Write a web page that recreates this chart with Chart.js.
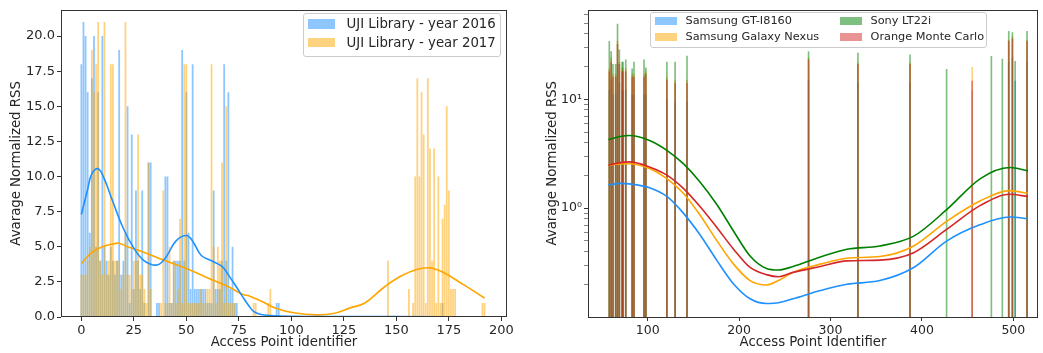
<!DOCTYPE html>
<html><head><meta charset="utf-8">
<script src="https://cdn.jsdelivr.net/npm/chart.js@4"></script>
<style>
html,body{margin:0;padding:0;background:#fff;width:1043px;height:353px;overflow:hidden;font-family:'DejaVu Sans',sans-serif;}
.panel{position:absolute;top:0;height:353px;}
#pl{left:0;width:520px}
#pr{left:520px;width:523px}
.legend{position:absolute;border:1px solid #cccccc;border-radius:3px;background:rgba(255,255,255,0.8);color:#262626;box-sizing:border-box;}
.lt{position:absolute;white-space:nowrap;}
.sw{position:absolute;}
</style></head><body>
<div class="panel" id="pl"><canvas id="c1" width="520" height="353"></canvas></div>
<div class="panel" id="pr"><canvas id="c2" width="523" height="353"></canvas></div>
<script>
// ---------- Left panel: UJI Library ----------
const lib2016Label = 'UJI Library - year 2016';
const lib2017Label = 'UJI Library - year 2017';
const libIds2016 = [0,1,2,3,4,5,6,7,8,9,10,11,12,13,14,15,16,17,18,19,20,21,22,23,24,25,26,27,28,29,30,32,33,36,37,40,41,42,43,44,45,46,47,48,49,50,51,52,53,54,55,56,57,58,59,60,61,62,63,64,65,66,67,68,69,70,71,72,73,74,93,94,172];
const libRss2016 = [18,21,20,16,6,17,20,5,16,4,20,5,4,3,5,4,3,4,19,3,4,6,15,1,13,2,9,4,2,9,1,11,11,1,1,10,10,1,1,4,4,4,4,19,4,16,6,2,18,2,2,2,2,2,2,1,1,1,9,2,2,2,4,18,4,16,2,5,1,1,1,1,1];
const libIds2017 = [0,1,2,3,4,5,6,7,8,9,10,11,12,13,14,15,16,17,18,19,20,21,22,23,24,25,26,27,28,29,30,31,32,33,38,39,40,41,42,43,44,45,46,47,48,49,50,51,52,53,54,55,56,57,58,59,60,61,62,63,64,65,66,67,68,69,70,71,72,73,82,83,89,90,146,156,158,159,160,161,162,163,164,165,166,167,168,169,170,171,172,173,174,175,176,177,178,191,192];
const libRss2017 = [3,3,3,4,5,19,16,18,21,4,3,21,3,4,18,18,4,4,4,2,3,21,3,3,2,4,4,13,3,3,2,1,11,2,1,9,1,1,5,1,4,1,2,7,1,18,18,1,1,1,1,1,1,2,1,1,2,2,18,5,1,5,4,11,1,15,1,1,1,1,1,1,1,2,4,2,1,10,17,10,16,13,1,17,12,4,12,1,10,1,7,8,15,9,2,2,2,1,1];
const kdeX2016 = [0,3,5,8,11,15,20,25,30,36,40,45,50,53,57,62,67,70,74,77,80,82,85,90,100,120,172];
const kdeY2016 = [7.3,9.1,10.2,10.55,9.8,8.2,6.3,4.9,4.0,3.7,4.2,5.4,5.8,5.4,4.4,4.0,3.6,3.0,2.1,1.4,0.75,0.4,0.2,0.1,0.05,0.03,0.02];
const kdeX2017 = [0,5,10,15,18,22,30,40,50,60,70,77,80,86,93,101,112,120,128,135,144,152,160,166,172,182,192];
const kdeY2017 = [3.8,4.6,5.0,5.2,5.25,5.0,4.6,4.0,3.45,2.8,2.15,1.6,1.5,1.1,0.6,0.3,0.15,0.25,0.65,1.0,2.1,2.9,3.4,3.5,3.2,2.3,1.35];
const leftXTicks = [0,25,50,75,100,125,150,175,200];
const leftYTicks = [0,2.5,5,7.5,10,12.5,15,17.5,20];

// ---------- Right panel: devices ----------
const phoneLabels = ['Samsung GT-I8160','Samsung Galaxy Nexus','Sony LT22i','Orange Monte Carlo'];
const phoneAps = [58,60,62,65,67,69,72,73,76,83,85,96,98,121,130,143,276,330,387,427,455,476,488,495,499,502,515];
const rssGT  = [12,15,11,11,21,14,12,12,12,11,11,11,11,10,9.5,9.5,15,14,14,null,12,null,null,22,24,14.7,22];
const rssNexus = [19,24,17,17,34,22,19,19.5,19,17,17,17,18,16,15,15,24,21.6,21.6,null,19.7,null,null,35,37.6,null,35];
const rssSony = [34,27.5,21,21,49,28.5,22,22,23,19,22,23,19.5,22,22,25,27.5,26.6,25.6,18.8,null,24.8,23.4,42,41,22.3,42];
const rssOrange = [18,22,16,16,32,21,18,18,18,16,16,16,17,15,14,14,23,21,21,null,14.7,null,null,34,36,null,34];
const curveX = [57,70,80,102,121,139,157,176,194,212,230,243,259,289,318,354,391,427,464,496,516];
const curveGT = [1.63,1.69,1.67,1.54,1.28,0.9,0.573,0.328,0.201,0.147,0.133,0.135,0.147,0.175,0.2,0.216,0.285,0.498,0.706,0.828,0.8];
const curveNexus = [2.48,2.55,2.56,2.31,1.87,1.37,0.871,0.498,0.306,0.216,0.197,0.216,0.257,0.306,0.347,0.359,0.449,0.757,1.17,1.45,1.37];
const curveSony = [4.27,4.55,4.65,4.19,3.4,2.56,1.75,1.07,0.614,0.364,0.279,0.27,0.291,0.356,0.419,0.449,0.553,0.967,1.87,2.36,2.2];
const curveOrange = [2.48,2.62,2.66,2.39,2.01,1.52,1.04,0.658,0.419,0.285,0.245,0.234,0.257,0.291,0.328,0.333,0.39,0.637,1.06,1.34,1.28];
const rightXTicks = [100,200,300,400,500];
const rightYMajor = [1,10];
const rightYMinor = [0.2,0.3,0.4,0.5,0.6,0.7,0.8,0.9,2,3,4,5,6,7,8,9,20,30,40,50,60];

const TXT = '#262626', AX = '#333333', FF = "'DejaVu Sans'";
Chart.defaults.font.family = FF;
Chart.defaults.color = TXT;

function pts(xs, ys){ return xs.map((x,i)=>({x:x, y:ys[i]})); }

const framePlugin = {
  id:'frame',
  afterDraw(chart){
    const a = chart.chartArea, c = chart.ctx;
    c.save(); c.strokeStyle = AX; c.lineWidth = 1;
    c.strokeRect(Math.round(a.left)+0.5, Math.round(a.top)+0.5, Math.round(a.right-a.left)-1, Math.round(a.bottom-a.top)-1);
    c.restore();
  }
};

function axisGrid(){ return {display:true, offset:false, drawOnChartArea:false, drawTicks:true, tickLength:4, tickColor:AX, color:AX}; }

const C16 = 'rgba(30,144,255,0.5)', C17 = 'rgba(255,165,0,0.5)';
new Chart(document.getElementById('c1'), {
  type:'bar',
  data:{datasets:[
    {type:'line', data:pts(kdeX2016,kdeY2016), borderColor:'#1e90ff', borderWidth:1.6, pointRadius:0, tension:0.4, fill:false, order:0},
    {type:'line', data:pts(kdeX2017,kdeY2017), borderColor:'#ffa500', borderWidth:1.6, pointRadius:0, tension:0.4, fill:false, order:0},
    {label:lib2017Label, data:pts(libIds2017,libRss2017), backgroundColor:C17, order:1, grouped:false, barPercentage:0.85, categoryPercentage:1},
    {label:lib2016Label, data:pts(libIds2016,libRss2016), backgroundColor:C16, order:2, grouped:false, barPercentage:0.85, categoryPercentage:1}
  ]},
  options:{
    responsive:false, animation:false, events:[],
    layout:{padding:{top:6,right:13,left:0,bottom:0}},
    plugins:{legend:{display:false}, tooltip:{enabled:false}},
    scales:{
      x:{type:'linear', offset:false, min:-9.7, max:202.7, grid:axisGrid(), border:{display:false},
         ticks:{color:TXT, font:{size:13}, padding:2, autoSkip:false, maxRotation:0},
         title:{display:true, text:'Access Point identifier', color:TXT, font:{size:13.3}, padding:{top:0,bottom:2}},
         afterBuildTicks:s=>{s.ticks = leftXTicks.map(v=>({value:v}));},
         afterFit:s=>{s.height = 36;}},
      y:{type:'linear', min:0, max:21.87, grid:axisGrid(), border:{display:false},
         ticks:{color:TXT, font:{size:13}, padding:2, autoSkip:false, callback:v=>Number(v).toFixed(1)},
         title:{display:true, text:'Avarage Normalized RSS', color:TXT, font:{size:13.3}, padding:{top:9,bottom:0}},
         afterBuildTicks:s=>{s.ticks = leftYTicks.map(v=>({value:v}));},
         afterFit:s=>{s.width = 61;}}
    }
  },
  plugins:[framePlugin]
});

const phoneColors = ['rgba(30,144,255,0.5)','rgba(255,165,0,0.5)','rgba(0,128,0,0.5)','rgba(214,39,40,0.5)'];
const lineColors = ['#1e90ff','#ffa500','#008000','#d62728'];
const rssSets = [rssGT, rssNexus, rssSony, rssOrange];
const curveSets = [curveGT, curveNexus, curveSony, curveOrange];
const rightDatasets = [];
rssSets.forEach((vals,i)=>{
  rightDatasets.push({label:phoneLabels[i], data:pts(phoneAps,vals), backgroundColor:phoneColors[i], order:10-i, grouped:false, barThickness:1});
});
curveSets.forEach((vals,i)=>{
  rightDatasets.push({type:'line', data:pts(curveX,vals), borderColor:lineColors[i], borderWidth:1.6, pointRadius:0, cubicInterpolationMode:'monotone', fill:false, order:4-i});
});
const supMap = {0:'⁰',1:'¹'};
new Chart(document.getElementById('c2'), {
  type:'bar',
  data:{datasets:rightDatasets},
  options:{
    responsive:false, animation:false, events:[],
    layout:{padding:{top:6,right:5,left:0,bottom:0}},
    plugins:{legend:{display:false}, tooltip:{enabled:false}},
    scales:{
      x:{type:'linear', offset:false, min:34.7, max:527, grid:axisGrid(), border:{display:false},
         ticks:{color:TXT, font:{size:12.5}, padding:2, autoSkip:false, maxRotation:0},
         title:{display:true, text:'Access Point Identifier', color:TXT, font:{size:13.3}, padding:{top:0,bottom:2}},
         afterBuildTicks:s=>{s.ticks = rightXTicks.map(v=>({value:v}));},
         afterFit:s=>{s.height = 36;}},
      y:{type:'logarithmic', min:0.1, max:66.8,
         grid:{display:true, offset:false, drawOnChartArea:false, drawTicks:true, tickLength:4, tickColor:AX, color:AX, tickWidth:c=>(c.tick && c.tick.major)?1:0.6},
         border:{display:false},
         ticks:{color:TXT, font:{size:12.5}, padding:2, autoSkip:false,
                callback:v=>rightYMajor.includes(v) ? '10'+supMap[Math.round(Math.log10(v))] : ''},
         title:{display:true, text:'Avarage Normalized RSS', color:TXT, font:{size:13.3}, padding:{top:25,bottom:0}},
         afterBuildTicks:s=>{s.ticks = rightYMajor.concat(rightYMinor).sort((a,b)=>a-b).map(v=>({value:v, major:rightYMajor.includes(v)}));},
         afterFit:s=>{s.width = 68;}}
    }
  },
  plugins:[framePlugin]
});

// ---------- HTML legends ----------
function makeLegend(parent, box, items, font){
  const d = document.createElement('div');
  d.className = 'legend';
  Object.assign(d.style, {left:box.l+'px', top:box.t+'px', width:box.w+'px', height:box.h+'px', fontSize:font+'px'});
  items.forEach(it=>{
    const s = document.createElement('div'); s.className='sw';
    Object.assign(s.style,{left:it.sx+'px', top:(it.cy-it.sh/2)+'px', width:it.sw+'px', height:it.sh+'px', background:it.color});
    const t = document.createElement('div'); t.className='lt'; t.textContent = it.text;
    Object.assign(t.style,{left:it.tx+'px', top:(it.cy-font*0.6)+'px', lineHeight:(font*1.2)+'px'});
    d.appendChild(s); d.appendChild(t);
  });
  parent.appendChild(d);
}
makeLegend(document.getElementById('pl'), {l:303,t:13,w:198,h:44}, [
  {text:lib2016Label, color:C16, sx:4, sw:27, sh:9.3, cy:10, tx:42.5},
  {text:lib2017Label, color:C17, sx:4, sw:27, sh:9.3, cy:28.7, tx:42.5}
], 13.3);
makeLegend(document.getElementById('pr'), {l:130,t:12,w:337,h:36}, [
  {text:phoneLabels[0], color:phoneColors[0], sx:4, sw:22, sh:7.7, cy:8, tx:34.5},
  {text:phoneLabels[1], color:phoneColors[1], sx:4, sw:22, sh:7.7, cy:23.7, tx:34.5},
  {text:phoneLabels[2], color:phoneColors[2], sx:189, sw:22, sh:7.7, cy:8, tx:219.5},
  {text:phoneLabels[3], color:phoneColors[3], sx:189, sw:22, sh:7.7, cy:23.7, tx:219.5}
], 11.3);
</script>
</body></html>
